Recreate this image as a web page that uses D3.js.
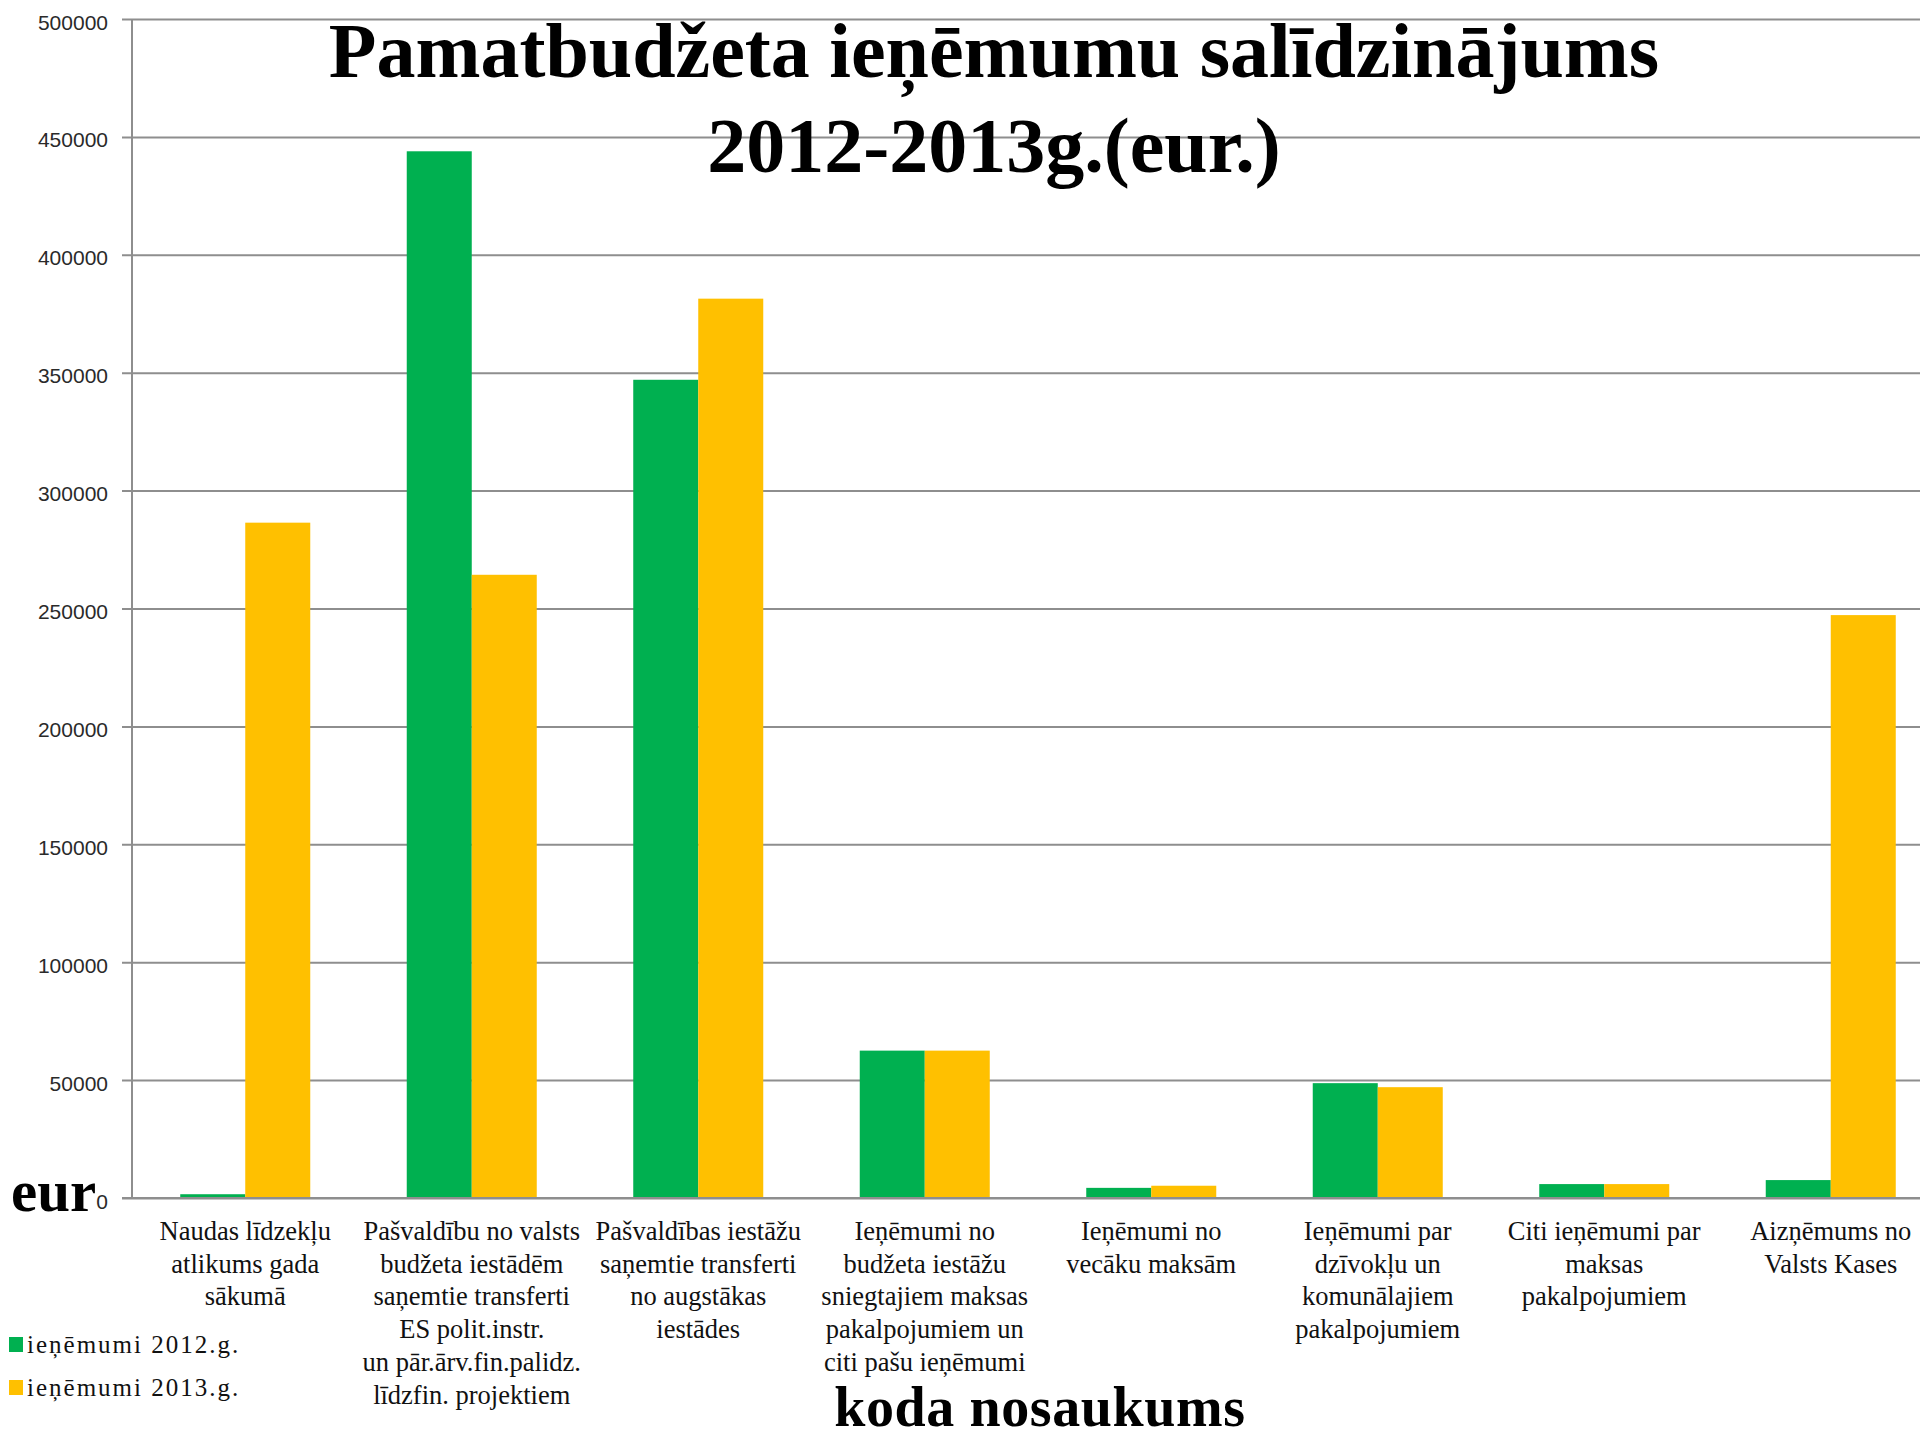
<!DOCTYPE html>
<html>
<head>
<meta charset="utf-8">
<script src="https://cdn.jsdelivr.net/npm/d3@7"></script>
<style>
  html, body { margin: 0; padding: 0; background: #fff; }
  svg { display: block; }
</style>
</head>
<body>
<svg id="chart" width="1920" height="1440"></svg>
<script>
// ---- data ----
const categories = [
  ["Naudas līdzekļu", "atlikums gada", "sākumā"],
  ["Pašvaldību no valsts", "budžeta iestādēm", "saņemtie transferti", "ES polit.instr.", "un pār.ārv.fin.palidz.", "līdzfin. projektiem"],
  ["Pašvaldības iestāžu", "saņemtie transferti", "no augstākas", "iestādes"],
  ["Ieņēmumi no", "budžeta iestāžu", "sniegtajiem maksas", "pakalpojumiem un", "citi pašu ieņēmumi"],
  ["Ieņēmumi no", "vecāku maksām"],
  ["Ieņēmumi par", "dzīvokļu un", "komunālajiem", "pakalpojumiem"],
  ["Citi ieņēmumi par", "maksas", "pakalpojumiem"],
  ["Aizņēmums no", "Valsts Kases"]
];
const seriesNames = ["ieņēmumi 2012.g.", "ieņēmumi 2013.g."];
const values2012 = [1600, 443900, 347000, 62500, 4300, 48700, 5900, 7600];
const values2013 = [286400, 264300, 381400, 62500, 5200, 47000, 5900, 247200];
const yTicks = [0, 50000, 100000, 150000, 200000, 250000, 300000, 350000, 400000, 450000, 500000];
const colors = ["#00B050", "#FFC000"];
const titleLines = ["Pamatbudžeta ieņēmumu salīdzinājums", "2012-2013g.(eur.)"];
const xTitle = "koda nosaukums";
const yTitle = "eur";

(function () {
  const svg = d3.select("#chart");
  const pLeft = 132, pRight = 1944, pTop = 19, pBottom = 1198;
  const catIdx = categories.map((d, i) => i);

  const x0 = d3.scaleBand().domain(catIdx).range([pLeft, pRight]).paddingInner(0.426).paddingOuter(0.213);
  const x1 = d3.scaleBand().domain([0, 1]).range([0, x0.bandwidth()]);
  const y = d3.scaleLinear().domain([0, 500000]).range([pBottom, pTop]);

  // gridlines + y axis
  const yAxis = d3.axisLeft(y).tickValues(yTicks).tickSize(-(pRight - pLeft)).tickSizeOuter(0).tickFormat(d3.format("d"));
  const gy = svg.append("g").attr("transform", `translate(${pLeft},0)`).call(yAxis);
  gy.select(".domain").remove();
  gy.selectAll(".tick line").attr("stroke", "#8e8e8e").attr("stroke-width", 2).attr("x1", -10);
  gy.selectAll(".tick text")
    .attr("x", -24).attr("dy", null).attr("y", 10)
    .attr("font-family", "'Liberation Sans', Arial, sans-serif")
    .attr("font-size", 21).attr("fill", "#2a2a2a").attr("text-anchor", "end");

  // left axis line
  svg.append("line").attr("x1", pLeft).attr("x2", pLeft).attr("y1", pTop).attr("y2", pBottom)
    .attr("stroke", "#8e8e8e").attr("stroke-width", 2);

  // bars
  const groups = svg.append("g").selectAll("g").data(catIdx).join("g")
    .attr("transform", i => `translate(${x0(i)},0)`);
  groups.selectAll("rect")
    .data(i => [values2012[i], values2013[i]].map((v, s) => ({ v, s })))
    .join("rect")
    .attr("x", d => x1(d.s))
    .attr("width", x1.bandwidth())
    .attr("y", d => y(d.v))
    .attr("height", d => y(0) - y(d.v))
    .attr("fill", d => colors[d.s]);

  // baseline
  svg.append("line").attr("x1", pLeft - 10).attr("x2", pRight).attr("y1", y(0)).attr("y2", y(0))
    .attr("stroke", "#8e8e8e").attr("stroke-width", 2);

  // category labels
  const labels = svg.append("g");
  categories.forEach((lines, i) => {
    const cx = x0(i) + x0.bandwidth() / 2;
    const t = labels.append("text")
      .attr("text-anchor", "middle")
      .attr("font-family", "'Liberation Serif', 'Times New Roman', serif")
      .attr("font-size", 26.5).attr("fill", "#111");
    lines.forEach((ln, k) => {
      t.append("tspan").attr("x", cx).attr("y", 1240 + k * 32.7).text(ln);
    });
  });

  // title
  const title = svg.append("g").attr("font-family", "'Liberation Serif', 'Times New Roman', serif")
    .attr("font-weight", "bold").attr("font-size", 78).attr("text-anchor", "middle").attr("fill", "#000");
  title.append("text").attr("x", 994).attr("y", 77).text(titleLines[0]);
  title.append("text").attr("x", 994).attr("y", 172).text(titleLines[1]);

  // axis titles
  svg.append("text").attr("x", (pLeft + pRight) / 2 + 2).attr("y", 1426)
    .attr("text-anchor", "middle")
    .attr("font-family", "'Liberation Serif', 'Times New Roman', serif")
    .attr("font-weight", "bold").attr("font-size", 56).attr("letter-spacing", 0.6)
    .attr("fill", "#000").text(xTitle);
  svg.append("text").attr("x", 11).attr("y", 1211)
    .attr("font-family", "'Liberation Serif', 'Times New Roman', serif")
    .attr("font-weight", "bold").attr("font-size", 59).attr("fill", "#000").text(yTitle);

  // legend
  const legend = svg.append("g");
  seriesNames.forEach((name, s) => {
    const yy = 1337 + s * 43;
    legend.append("rect").attr("x", 9).attr("y", yy).attr("width", 14).attr("height", 15).attr("fill", colors[s]);
    legend.append("text").attr("x", 27).attr("y", yy + 16)
      .attr("font-family", "'Liberation Serif', 'Times New Roman', serif")
      .attr("font-size", 25).attr("letter-spacing", 2).attr("fill", "#111").text(name);
  });
})();
</script>
</body>
</html>
